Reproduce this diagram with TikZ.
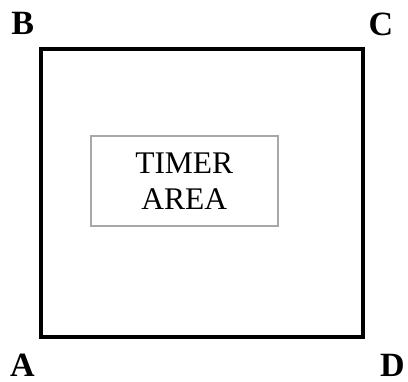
\documentclass[tikz,border=0pt]{standalone}
\usepackage{fontspec}
\setmainfont{Liberation Serif}
\definecolor{boxgray}{RGB}{168,168,168}
\tikzset{
  frame/.style={draw=black, line width=4.5pt, minimum width=322pt, minimum height=288pt, inner sep=0pt},
  timerbox/.style={draw=boxgray, line width=2pt, minimum width=187.5pt, minimum height=90pt,
    inner sep=0pt, align=center, font=\fontsize{31.5}{36}\selectfont},
  corner/.style={anchor=base, inner sep=0pt, font=\fontsize{34}{40}\selectfont\bfseries}
}
\begin{document}
\begin{tikzpicture}[x=1pt, y=-1pt]
  \useasboundingbox (0,0) rectangle (408,382);
  % outer frame
  \node[frame] (frame) at (202,193) {};
  % inner timer region
  \node[timerbox] (timer) at (184.25,181) {TIMER\\AREA};
  % corner labels
  \node[corner] (B) at (22.8,35) {B};
  \node[corner] (C) at (380.8,35.5) {C};
  \node[corner] (A) at (22.5,376.7) {A};
  \node[corner] (D) at (392.5,376.7) {D};
\end{tikzpicture}
\end{document}
